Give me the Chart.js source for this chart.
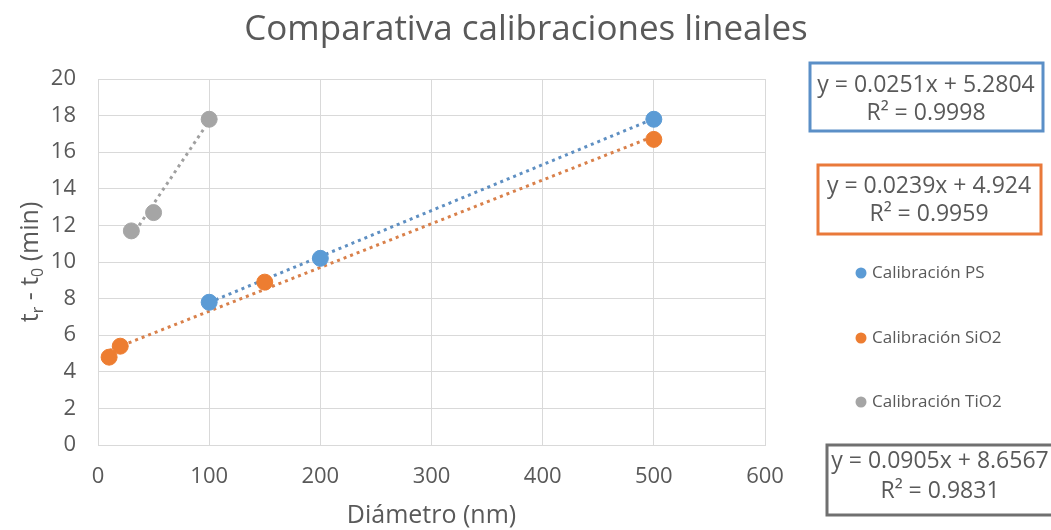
<!DOCTYPE html>
<html>
<head>
<meta charset="utf-8">
<script src="https://cdn.jsdelivr.net/npm/chart.js@4.4.1/dist/chart.umd.min.js"></script>
<style>
html,body{margin:0;padding:0;background:#fff;}
#wrap{width:1051px;height:530px;}
</style>
</head>
<body>
<div id="wrap"><canvas id="c" width="1051" height="530"></canvas></div>
<script>
// ---- data ----
const titleText = "Comparativa calibraciones lineales";
const xTitle = "Diámetro (nm)";
const seriesNames = ["Calibración PS", "Calibración SiO2", "Calibración TiO2"];
const psX = [100, 200, 500];
const psY = [7.8, 10.2, 17.8];
const sioX = [10, 20, 150, 500];
const sioY = [4.8, 5.4, 8.9, 16.7];
const tioX = [30, 50, 100];
const tioY = [11.7, 12.7, 17.8];
// trend line end points
const psTrendX = [100, 500];
const psTrendY = [7.79, 17.83];
const sioTrendX = [10, 500];
const sioTrendY = [5.16, 16.87];
const tioTrendX = [30, 100];
const tioTrendY = [11.37, 17.71];
const equations = ["y = 0.0251x + 5.2804", "y = 0.0239x + 4.924", "y = 0.0905x + 8.6567"];
const r2Labels = ["R² = 0.9998", "R² = 0.9959", "R² = 0.9831"];
const xTicks = [0, 100, 200, 300, 400, 500, 600];
const yTicks = [0, 2, 4, 6, 8, 10, 12, 14, 16, 18, 20];

const colors = ["#5B9BD5", "#ED7D31", "#A5A5A5"];
const trendColors = ["#5E8FC2", "#D9804A", "#A0A0A0"];
const boxColors = ["#5B8FC7", "#E9793A", "#707070"];
const FONT = "'Open Sans', sans-serif";
const TXT = "#595959";

const pts = (xs, ys) => xs.map((x, i) => ({x: x, y: ys[i]}));

function pointSet(label, xs, ys, c) {
  return {label, data: pts(xs, ys), backgroundColor: c, borderColor: c,
    pointRadius: 8, pointHoverRadius: 8, showLine: false, order: 1};
}
function trendSet(xs, ys, c) {
  return {label: "trend", data: pts(xs, ys), borderColor: c, backgroundColor: c,
    showLine: true, pointRadius: 0, borderWidth: 3, borderDash: [3, 4], borderCapStyle: 'butt', fill: false, order: 2};
}

const overlay = {
  id: 'overlay',
  afterDraw(chart) {
    const ctx = chart.ctx;
    const area = chart.chartArea;
    ctx.save();
    ctx.fillStyle = TXT;
    // title
    ctx.font = "35px " + FONT;
    ctx.textAlign = "center";
    ctx.textBaseline = "middle";
    ctx.fillText(titleText, 526, 30);
    // x title
    ctx.font = "25px " + FONT;
    ctx.fillText(xTitle, (area.left + area.right) / 2, 516);
    // y title with subscripts
    ctx.save();
    ctx.translate(30, (area.top + area.bottom) / 2);
    ctx.rotate(-Math.PI / 2);
    const parts = [["t", 0], ["r", 1], [" - t", 0], ["0", 1], [" (min)", 0]];
    const big = "25px " + FONT, small = "16px " + FONT;
    let w = 0;
    parts.forEach(p => { ctx.font = p[1] ? small : big; w += ctx.measureText(p[0]).width; });
    let x = -w / 2;
    ctx.textAlign = "left";
    ctx.textBaseline = "alphabetic";
    parts.forEach(p => {
      ctx.font = p[1] ? small : big;
      ctx.fillText(p[0], x, p[1] ? 13 : 8);
      x += ctx.measureText(p[0]).width;
    });
    ctx.restore();
    // legend
    const legY = [273, 338, 402];
    ctx.font = "17px " + FONT;
    ctx.textAlign = "left";
    ctx.textBaseline = "middle";
    seriesNames.forEach((n, i) => {
      ctx.beginPath();
      ctx.fillStyle = colors[i];
      ctx.arc(861, legY[i], 5.5, 0, Math.PI * 2);
      ctx.fill();
      ctx.fillStyle = TXT;
      ctx.fillText(n, 872, legY[i]);
    });
    // equation boxes
    const boxes = [[810, 63, 233, 68], [818, 165, 223, 69], [827, 445, 240, 70]];
    const cx = [926, 929, 940];
    const l1 = [22, 21, 16];
    const l2 = [50, 49, 46];
    boxes.forEach((b, i) => {
      ctx.lineWidth = 3;
      ctx.strokeStyle = boxColors[i];
      ctx.strokeRect(b[0], b[1], b[2], b[3]);
      ctx.fillStyle = TXT;
      ctx.font = "23px " + FONT;
      ctx.textAlign = "center";
      ctx.fillText(equations[i], cx[i], b[1] + l1[i]);
      ctx.fillText(r2Labels[i], cx[i], b[1] + l2[i]);
    });
    ctx.restore();
  }
};

new Chart(document.getElementById('c'), {
  type: 'scatter',
  data: {
    datasets: [
      pointSet(seriesNames[0], psX, psY, colors[0]),
      pointSet(seriesNames[1], sioX, sioY, colors[1]),
      pointSet(seriesNames[2], tioX, tioY, colors[2]),
      trendSet(psTrendX, psTrendY, trendColors[0]),
      trendSet(sioTrendX, sioTrendY, trendColors[1]),
      trendSet(tioTrendX, tioTrendY, trendColors[2])
    ]
  },
  options: {
    responsive: false,
    animation: false,
    layout: {padding: {left: 0, right: 286, top: 79, bottom: 0}},
    plugins: {legend: {display: false}, tooltip: {enabled: false}, title: {display: false}},
    scales: {
      x: {
        type: 'linear', min: 0, max: 600,
        afterBuildTicks(s) { s.ticks = xTicks.map(v => ({value: v})); },
        afterFit(s) { s.height = 85; },
        grid: {color: "#D9D9D9", drawTicks: false, lineWidth: 1},
        border: {color: "#D9D9D9"},
        ticks: {color: TXT, font: {family: FONT, size: 22}, padding: 19}
      },
      y: {
        type: 'linear', min: 0, max: 20,
        afterBuildTicks(s) { s.ticks = yTicks.map(v => ({value: v})); },
        afterFit(s) { s.width = 98; },
        grid: {color: "#D9D9D9", drawTicks: false, lineWidth: 1},
        border: {color: "#D9D9D9"},
        ticks: {color: TXT, font: {family: FONT, size: 22}, padding: 22}
      }
    }
  },
  plugins: [overlay]
});
</script>
</body>
</html>
